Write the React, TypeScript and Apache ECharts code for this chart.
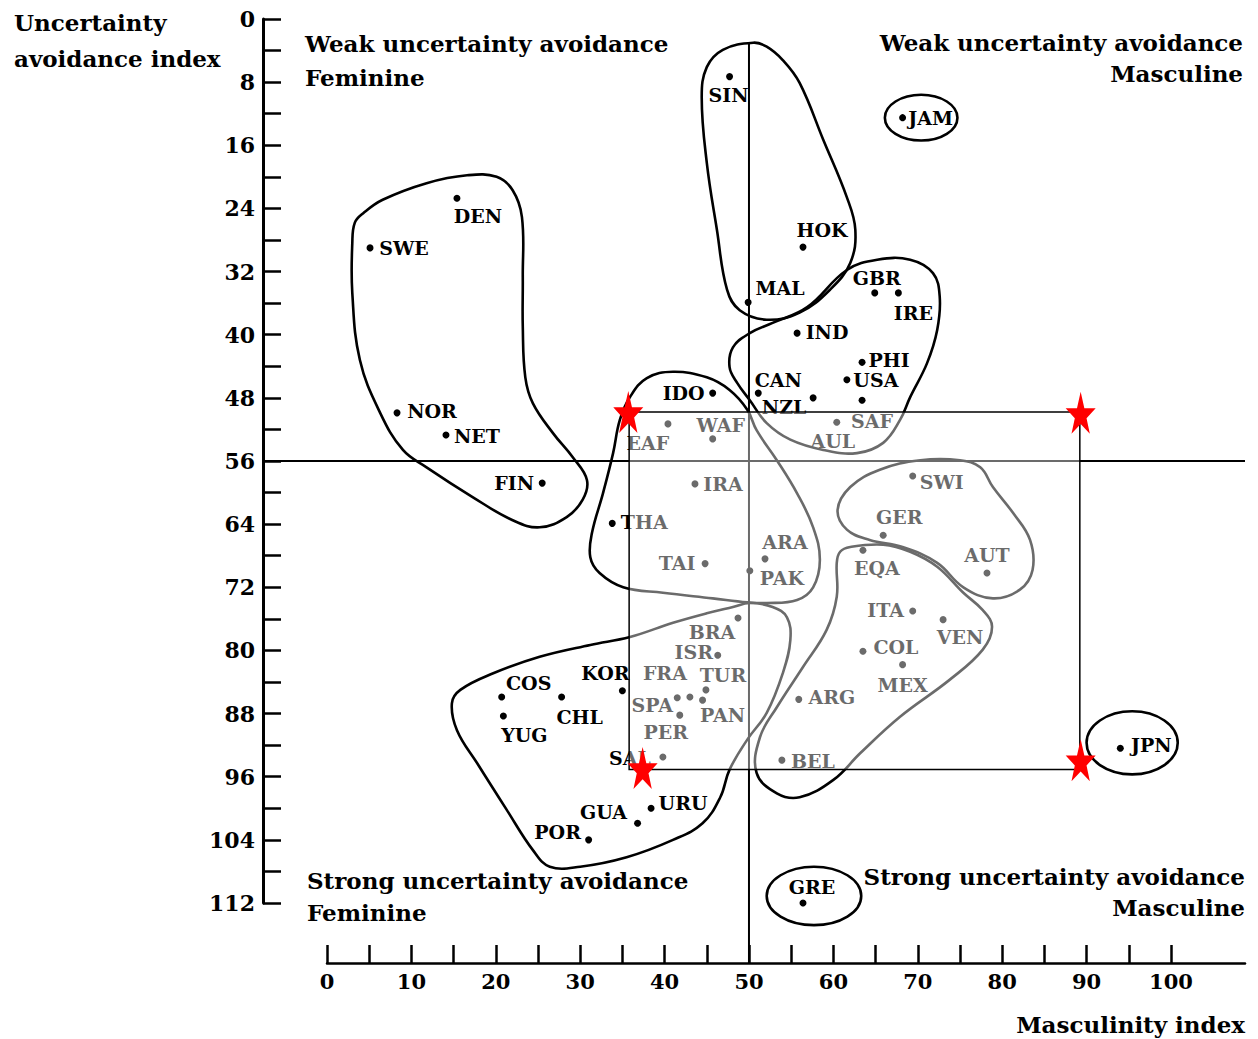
import React, { useEffect, useRef } from 'react';
import * as echarts from 'echarts';

// ---------- data ----------
const COUNTRIES = [
  'SWE', 'DEN', 'NOR', 'NET', 'FIN', 'SIN', 'HOK', 'MAL', 'GBR', 'IRE', 'IND', 'PHI', 'USA', 'CAN', 'NZL', 'SAF',
  'JAM', 'AUL', 'WAF', 'EAF', 'IDO', 'IRA', 'THA', 'TAI', 'ARA', 'PAK', 'SWI', 'GER', 'EQA', 'AUT', 'ITA', 'VEN',
  'COL', 'MEX', 'ARG', 'BEL', 'BRA', 'ISR', 'FRA', 'TUR', 'PAN', 'SPA', 'PER', 'SAL', 'COS', 'YUG', 'CHL', 'KOR',
  'GUA', 'URU', 'POR', 'JPN', 'GRE',
];
const MASCULINITY = [
  5.1, 15.4, 8.3, 14.1, 25.5, 47.7, 56.4, 49.9, 64.9, 67.7, 55.7, 63.4, 61.6, 51.1, 57.6, 63.4,
  68.2, 60.4, 45.7, 40.4, 45.7, 43.6, 33.8, 44.8, 51.9, 50.1, 69.4, 65.9, 63.5, 78.2, 69.4, 73.0,
  63.5, 68.2, 55.9, 53.9, 48.7, 46.3, 43.0, 44.9, 44.5, 41.5, 41.8, 39.8, 20.7, 20.9, 27.8, 35.0,
  36.8, 38.4, 31.0, 94.0, 56.4,
];
const UNCERTAINTY = [
  29.0, 22.7, 49.9, 52.7, 58.8, 7.3, 28.9, 35.9, 34.7, 34.7, 39.8, 43.5, 45.7, 47.4, 48.0, 48.3,
  12.5, 51.1, 53.2, 51.3, 47.4, 58.9, 63.9, 69.0, 68.4, 69.9, 57.9, 65.4, 67.3, 70.2, 75.0, 76.1,
  80.1, 81.8, 86.2, 93.9, 75.9, 80.6, 85.9, 85.0, 86.3, 86.0, 88.2, 93.5, 85.9, 88.3, 85.9, 85.1,
  101.9, 100.0, 104.0, 92.4, 112.0,
];

// hand-drawn cluster outlines, in [masculinity, uncertainty] units
const BLOB_NORDIC = [
  [4.3, 24.6], [6.6, 22.9], [11.8, 20.8], [16.6, 19.8], [20.1, 20.0], [22.0, 21.7], [23.1, 25.1], [23.2, 32.7],
  [23.2, 39.0], [23.5, 45.4], [24.4, 48.7], [26.8, 52.5], [29.1, 55.5], [30.8, 58.4], [30.3, 60.9], [28.4, 63.1],
  [25.2, 64.4], [22.0, 63.5], [17.3, 60.6], [11.8, 56.8], [9.0, 54.6], [6.3, 49.9], [3.9, 43.2], [3.0, 34.7],
  [3.0, 28.4], [3.3, 25.8],
];
const BLOB_SINGAPORE = [
  [50.5, 3.0], [46.9, 3.9], [45.0, 6.1], [44.4, 9.9], [45.0, 18.2], [46.2, 26.7], [47.4, 34.3], [48.9, 36.9],
  [52.1, 38.1], [56.0, 37.2], [59.6, 34.3], [62.0, 30.9], [62.6, 26.7], [61.6, 22.6], [58.8, 15.3], [56.0, 8.1],
  [54.0, 5.2], [52.1, 3.5],
];
const BLOB_ANGLO = [
  [61.6, 31.8], [65.2, 30.5], [69.1, 30.5], [71.8, 32.2], [72.6, 35.2], [72.3, 39.4], [71.1, 43.6], [69.1, 47.9],
  [67.9, 50.8], [65.9, 53.7], [62.8, 55.0], [58.8, 54.6], [54.9, 53.3], [52.1, 51.2], [50.1, 48.3], [48.6, 46.1],
  [47.7, 44.1], [48.1, 41.6], [50.1, 39.8], [52.8, 38.5], [56.9, 36.5],
];
const BLOB_MIDDLE = [
  [49.8, 49.5], [47.7, 47.0], [45.0, 45.4], [41.0, 44.7], [37.9, 45.5], [35.9, 47.9], [34.7, 50.8], [33.9, 55.0],
  [32.7, 60.1], [31.4, 65.1], [31.2, 68.2], [32.3, 70.2], [35.1, 72.0], [39.8, 72.7], [45.7, 73.4], [49.8, 73.9],
  [52.1, 74.0], [55.7, 73.6], [57.6, 72.0], [58.4, 68.5], [57.6, 64.4], [55.7, 60.1], [53.3, 55.9], [50.9, 52.1],
];
const BLOB_GERMANIC = [
  [75.0, 55.9], [70.3, 55.9], [65.5, 57.1], [62.0, 59.3], [60.5, 62.2], [61.6, 64.7], [64.3, 66.0], [68.2, 66.9],
  [72.3, 68.9], [75.4, 72.0], [78.9, 73.4], [82.1, 72.3], [83.6, 69.8], [83.3, 66.0], [81.3, 62.6], [78.9, 59.3],
  [77.4, 56.8],
];
const BLOB_LATIN_MASC = [
  [62.0, 66.9], [65.9, 66.6], [69.1, 67.5], [72.3, 69.4], [75.4, 72.7], [77.7, 74.9], [78.8, 77.0], [77.7, 79.9],
  [73.8, 83.7], [67.9, 88.4], [63.2, 93.0], [60.0, 96.4], [56.0, 98.6], [53.3, 98.1], [50.9, 95.5], [51.3, 91.0],
  [53.3, 87.2], [56.4, 82.1], [59.2, 77.4], [60.4, 73.2], [60.4, 68.9], [60.8, 67.5],
];
const BLOB_LATIN_FEM = [
  [50.1, 74.0], [52.8, 74.5], [54.5, 75.8], [54.9, 78.7], [54.0, 82.9], [52.1, 87.9], [49.8, 91.3], [47.7, 95.1],
  [46.6, 98.6], [44.5, 101.9], [41.0, 104.0], [35.5, 106.2], [30.0, 107.4], [26.4, 107.4], [24.4, 105.3],
  [21.3, 100.2], [17.8, 94.3], [15.4, 90.1], [14.8, 86.7], [15.8, 85.0], [19.7, 82.9], [25.2, 80.8], [31.2, 79.3],
  [35.9, 78.3], [41.0, 76.5], [45.0, 75.3], [48.1, 74.5],
];
const BLOBS = [BLOB_NORDIC, BLOB_SINGAPORE, BLOB_ANGLO, BLOB_MIDDLE, BLOB_GERMANIC, BLOB_LATIN_MASC, BLOB_LATIN_FEM];

// single-country ellipses: [centre x, centre y, radius x, radius y]
const ELLIPSE_JAM = [70.4, 12.5, 4.3, 2.9];
const ELLIPSE_JPN = [95.4, 91.7, 5.4, 4.0];
const ELLIPSE_GRE = [57.7, 111.1, 5.6, 3.7];
const ELLIPSES = [ELLIPSE_JAM, ELLIPSE_JPN, ELLIPSE_GRE];

// quadrant dividers: [x1, y1, x2, y2]
const DIVIDER_V = [50, 2.9, 50, 119.6];
const DIVIDER_H = [-7.58, 56, 108.77, 56];
const DIVIDERS = [DIVIDER_V, DIVIDER_H];

// highlighted rectangle [x0, y0, x1, y1] and its red star corners
const HIGHLIGHT = [35.8, 49.8, 89.2, 95.1];
const STAR_X = [35.7, 89.3, 37.4, 89.3];
const STAR_Y = [49.8, 49.9, 94.9, 93.9];

const Y_TICKS = [0, 4, 8, 12, 16, 20, 24, 28, 32, 36, 40, 44, 48, 52, 56, 60, 64, 68, 72, 76, 80, 84, 88, 92, 96, 100, 104, 108, 112];
const Y_LABELS = [0, 8, 16, 24, 32, 40, 48, 56, 64, 72, 80, 88, 96, 104, 112];
const X_TICKS = [0, 5, 10, 15, 20, 25, 30, 35, 40, 45, 50, 55, 60, 65, 70, 75, 80, 85, 90, 95, 100];
const X_LABELS = [0, 10, 20, 30, 40, 50, 60, 70, 80, 90, 100];

// ---------- styling ----------
const FONT = '"DejaVu Serif", "Liberation Serif", serif';
const LABEL_OFFSET: Record<string, number[]> = {
  SWE: [34, 0], DEN: [21, 18], NOR: [35, -2], NET: [31, 1], FIN: [-28, 0], SIN: [-1, 18], HOK: [19, -17],
  MAL: [32, -14], GBR: [2, -15], IRE: [15, 20], IND: [30, -1], PHI: [27, -2], USA: [29, 0], CAN: [20, -13],
  NZL: [-29, 9], SAF: [10, 21], JAM: [28, 0], AUL: [-4, 19], WAF: [8, -14], EAF: [-20, 19], IDO: [-29, 0],
  IRA: [28, 0], THA: [32, -1], TAI: [-28, -1], ARA: [20, -17], PAK: [32, 7], SWI: [29, 6], GER: [16, -18],
  EQA: [14, 18], AUT: [0, -18], ITA: [-27, -1], VEN: [17, 17], COL: [33, -4], MEX: [0, 20], ARG: [33, -2],
  BEL: [31, 1], BRA: [-26, 14], ISR: [-24, -3], FRA: [-25, -24], TUR: [17, -15], PAN: [20, 15], SPA: [-25, 7],
  PER: [-14, 17], SAL: [-33, 1], COS: [27, -14], YUG: [21, 19], CHL: [18, 20], KOR: [-17, -18], GUA: [-34, -11],
  URU: [32, -5], POR: [-31, -8], JPN: [31, -3], GRE: [9, -16],
};

function textEl(text: string, x: number, y: number, align: string, size: number) {
  return {
    type: 'text',
    x,
    y,
    silent: true,
    style: {
      text,
      textAlign: align,
      textVerticalAlign: 'middle',
      font: `bold ${size}px ${FONT}`,
      fill: '#000',
    },
  };
}

function buildOption() {
  const points = COUNTRIES.map((name, i) => ({
    name,
    value: [MASCULINITY[i], UNCERTAINTY[i]],
    label: { offset: LABEL_OFFSET[name] || [0, 0] },
  }));

  return {
    animation: false,
    backgroundColor: '#fff',
    grid: [
      { left: 263, right: 13, top: 19, height: 884 },
      { left: 327, right: 13, top: 940, height: 23 },
    ],
    xAxis: [
      { gridIndex: 0, type: 'value', min: -7.58, max: 108.77, show: false, axisLine: { onZero: false } },
      {
        gridIndex: 1,
        type: 'value',
        min: 0,
        max: 108.77,
        interval: 5,
        position: 'bottom',
        splitLine: { show: false },
        axisLine: { show: true, onZero: false, lineStyle: { color: '#000', width: 2.5 } },
        axisTick: { show: true, inside: true, length: 18, customValues: X_TICKS, lineStyle: { color: '#000', width: 2.5 } },
        axisLabel: {
          customValues: X_LABELS,
          margin: 8,
          color: '#000',
          fontFamily: FONT,
          fontWeight: 'bold',
          fontSize: 21,
          formatter: (v: number) => (X_LABELS.indexOf(v) >= 0 ? String(v) : ''),
        },
      },
    ],
    yAxis: [
      {
        gridIndex: 0,
        type: 'value',
        inverse: true,
        min: 0,
        max: 112,
        interval: 4,
        position: 'left',
        splitLine: { show: false },
        axisLine: { show: true, onZero: false, lineStyle: { color: '#000', width: 3 } },
        axisTick: { show: true, inside: true, length: 18, customValues: Y_TICKS, lineStyle: { color: '#000', width: 2.5 } },
        axisLabel: {
          customValues: Y_LABELS,
          margin: 8,
          color: '#000',
          fontFamily: FONT,
          fontWeight: 'bold',
          fontSize: 22,
          formatter: (v: number) => (Y_LABELS.indexOf(v) >= 0 ? String(v) : ''),
        },
      },
      { gridIndex: 1, type: 'value', show: false, min: 0, max: 1, axisLine: { onZero: false } },
    ],
    graphic: [
      textEl('Uncertainty', 14, 22, 'left', 23),
      textEl('avoidance index', 14, 58, 'left', 23),
      textEl('Masculinity index', 1245, 1024, 'right', 23),
      textEl('Weak uncertainty avoidance', 305, 43, 'left', 23),
      textEl('Feminine', 305, 77, 'left', 23),
      textEl('Weak uncertainty avoidance', 1243, 42, 'right', 23),
      textEl('Masculine', 1243, 73, 'right', 23),
      textEl('Strong uncertainty avoidance', 307, 880, 'left', 23),
      textEl('Feminine', 307, 912, 'left', 23),
      textEl('Strong uncertainty avoidance', 1245, 876, 'right', 23),
      textEl('Masculine', 1245, 907, 'right', 23),
    ],
    series: [
      {
        type: 'custom',
        name: 'dividers',
        coordinateSystem: 'cartesian2d',
        xAxisIndex: 0,
        yAxisIndex: 0,
        z: 1,
        silent: true,
        clip: false,
        data: DIVIDERS.map((d) => [d[0], d[1]]),
        renderItem: (params: any, api: any) => {
          const d = DIVIDERS[params.dataIndex];
          const a = api.coord([d[0], d[1]]);
          const b = api.coord([d[2], d[3]]);
          return {
            type: 'line',
            shape: { x1: a[0], y1: a[1], x2: b[0], y2: b[1] },
            style: { stroke: '#000', lineWidth: 2, fill: 'none' },
          };
        },
      },
      {
        type: 'custom',
        name: 'clusters',
        coordinateSystem: 'cartesian2d',
        xAxisIndex: 0,
        yAxisIndex: 0,
        z: 1,
        silent: true,
        clip: false,
        data: BLOBS.map((b) => b[0]),
        renderItem: (params: any, api: any) => {
          const blob = BLOBS[params.dataIndex];
          return {
            type: 'polygon',
            shape: { points: blob.map((p) => api.coord(p)), smooth: 0.4 },
            style: { stroke: '#000', lineWidth: 2.6, fill: 'none' },
          };
        },
      },
      {
        type: 'custom',
        name: 'singles',
        coordinateSystem: 'cartesian2d',
        xAxisIndex: 0,
        yAxisIndex: 0,
        z: 1,
        silent: true,
        clip: false,
        data: ELLIPSES.map((e) => [e[0], e[1]]),
        renderItem: (params: any, api: any) => {
          const e = ELLIPSES[params.dataIndex];
          const c = api.coord([e[0], e[1]]);
          const s = api.size([e[2], e[3]]);
          return {
            type: 'ellipse',
            shape: { cx: c[0], cy: c[1], rx: Math.abs(s[0]), ry: Math.abs(s[1]) },
            style: { stroke: '#000', lineWidth: 2.6, fill: 'none' },
          };
        },
      },
      {
        type: 'scatter',
        name: 'countries',
        xAxisIndex: 0,
        yAxisIndex: 0,
        z: 2,
        symbol: 'circle',
        symbolSize: 7,
        itemStyle: { color: '#000', opacity: 1 },
        label: {
          show: true,
          position: 'inside',
          formatter: '{b}',
          color: '#000',
          fontFamily: FONT,
          fontWeight: 'bold',
          fontSize: 19,
        },
        data: points,
      },
      {
        type: 'custom',
        name: 'highlight',
        coordinateSystem: 'cartesian2d',
        xAxisIndex: 0,
        yAxisIndex: 0,
        z: 5,
        silent: true,
        clip: false,
        data: [[HIGHLIGHT[0], HIGHLIGHT[1]]],
        renderItem: (params: any, api: any) => {
          const a = api.coord([HIGHLIGHT[0], HIGHLIGHT[1]]);
          const b = api.coord([HIGHLIGHT[2], HIGHLIGHT[3]]);
          return {
            type: 'rect',
            shape: {
              x: Math.min(a[0], b[0]),
              y: Math.min(a[1], b[1]),
              width: Math.abs(b[0] - a[0]),
              height: Math.abs(b[1] - a[1]),
            },
            style: { fill: 'rgba(255,255,255,0.42)', stroke: '#000', lineWidth: 1.5 },
          };
        },
      },
      {
        type: 'scatter',
        name: 'stars',
        xAxisIndex: 0,
        yAxisIndex: 0,
        z: 6,
        silent: true,
        symbol:
          'path://M50,0 L61.8,35.1 L98.1,35.1 L68.8,56.7 L79.4,90.5 L50,69.5 L20.6,90.5 L31.2,56.7 L1.9,35.1 L38.2,35.1 Z',
        symbolSize: [30, 42],
        itemStyle: { color: '#ff0000', opacity: 1 },
        data: STAR_X.map((x, i) => [x, STAR_Y[i]]),
      },
    ],
  };
}

export default function App() {
  const ref = useRef<HTMLDivElement>(null);
  useEffect(() => {
    if (!ref.current) return;
    const chart = echarts.init(ref.current, null, { renderer: 'svg' });
    chart.setOption(buildOption() as any);
    return () => chart.dispose();
  }, []);
  return (
    <div
      ref={ref}
      style={{ position: 'absolute', left: 0, top: 0, width: 1258, height: 1039, background: '#fff' }}
    />
  );
}
